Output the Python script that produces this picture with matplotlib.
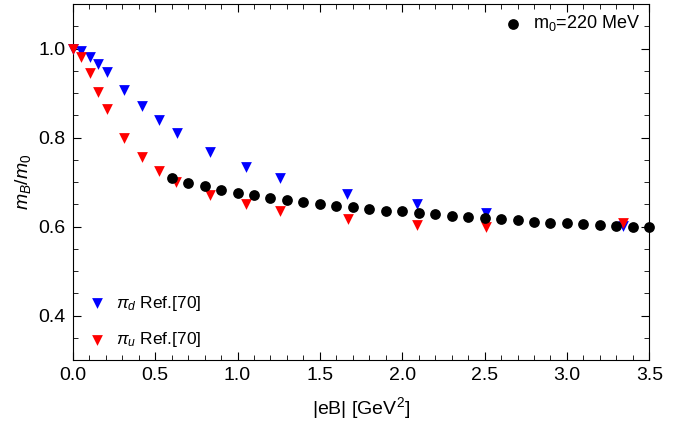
import matplotlib.pyplot as plt
from matplotlib.ticker import MultipleLocator

plt.rcParams['font.family'] = ['Liberation Sans', 'DejaVu Sans']
plt.rcParams['mathtext.fontset'] = 'custom'
plt.rcParams['mathtext.rm'] = 'Liberation Sans'
plt.rcParams['mathtext.it'] = 'Liberation Sans:italic'

# black dots: this work, m0 = 220 MeV
eb_m0 = [0.6, 0.7, 0.8, 0.9, 1.0, 1.1, 1.2, 1.3, 1.4, 1.5, 1.6, 1.7, 1.8, 1.9, 2.0,
         2.1, 2.2, 2.3, 2.4, 2.5, 2.6, 2.7, 2.8, 2.9, 3.0, 3.1, 3.2, 3.3, 3.4, 3.5]
ratio_m0 = [0.709, 0.699, 0.691, 0.682, 0.676, 0.670, 0.665, 0.659, 0.655, 0.651,
            0.647, 0.643, 0.640, 0.635, 0.634, 0.630, 0.628, 0.624, 0.622, 0.620,
            0.617, 0.614, 0.611, 0.609, 0.607, 0.605, 0.604, 0.602, 0.600, 0.598]

# pi_d, Ref.[70]
eb_pid = [0.0, 0.053, 0.103, 0.156, 0.208, 0.312, 0.421, 0.522, 0.63, 0.832,
          1.049, 1.258, 1.663, 2.092, 2.507, 3.343]
ratio_pid = [1.0, 0.995, 0.981, 0.966, 0.948, 0.908, 0.871, 0.839, 0.811, 0.768,
             0.734, 0.710, 0.673, 0.650, 0.631, 0.602]

# pi_u, Ref.[70]
eb_piu = [0.0, 0.053, 0.103, 0.156, 0.208, 0.312, 0.421, 0.522, 0.626, 0.836,
          1.049, 1.258, 1.67, 2.092, 2.507, 3.343]
ratio_piu = [1.0, 0.981, 0.946, 0.903, 0.864, 0.800, 0.757, 0.724, 0.701, 0.671,
             0.650, 0.635, 0.617, 0.604, 0.599, 0.609]

fig, ax = plt.subplots(figsize=(6.93, 4.26), dpi=100)
fig.subplots_adjust(left=0.105, right=0.937, top=0.99, bottom=0.155)

h_d = ax.scatter(eb_pid, ratio_pid, marker='v', s=60, color='blue', linewidths=0,
                 label=r'$\pi_d$ Ref.[70]', clip_on=False, zorder=3)
h_u = ax.scatter(eb_piu, ratio_piu, marker='v', s=60, color='red', linewidths=0,
                 label=r'$\pi_u$ Ref.[70]', clip_on=False, zorder=4)
h_m = ax.scatter(eb_m0, ratio_m0, marker='o', s=60, color='black', linewidths=0,
                 label=r'm$_0$=220 MeV', clip_on=False, zorder=5)

ax.set_xlim(0, 3.5)
ax.set_ylim(0.3, 1.1)
ax.xaxis.set_major_locator(MultipleLocator(0.5))
ax.xaxis.set_minor_locator(MultipleLocator(0.1))
ax.yaxis.set_major_locator(MultipleLocator(0.2))
ax.yaxis.set_minor_locator(MultipleLocator(0.05))
ax.tick_params(which='both', direction='in', top=True, right=True, labelsize=14)
ax.tick_params(which='major', length=6, pad=5)
ax.tick_params(which='minor', length=3.5)
ax.set_yticks([0.4, 0.6, 0.8, 1.0])
ax.set_yticklabels(['0.4', '0.6', '0.8', '1.0'])

ax.set_xlabel(r'|eB| [GeV$^2$]', fontsize=14, labelpad=8)
ax.set_ylabel(r'$m_B/m_0$', fontsize=14, labelpad=4)

leg1 = ax.legend(handles=[h_m], loc='upper right', frameon=False, fontsize=13,
                 handletextpad=0.1, borderaxespad=0.1)
ax.add_artist(leg1)
ax.legend(handles=[h_d, h_u], loc='lower left', bbox_to_anchor=(0.0, 0.011),
          frameon=False, fontsize=12.5, handletextpad=0.1, labelspacing=1.0,
          borderaxespad=0.2, borderpad=0.2)

fig.savefig('out.png')
